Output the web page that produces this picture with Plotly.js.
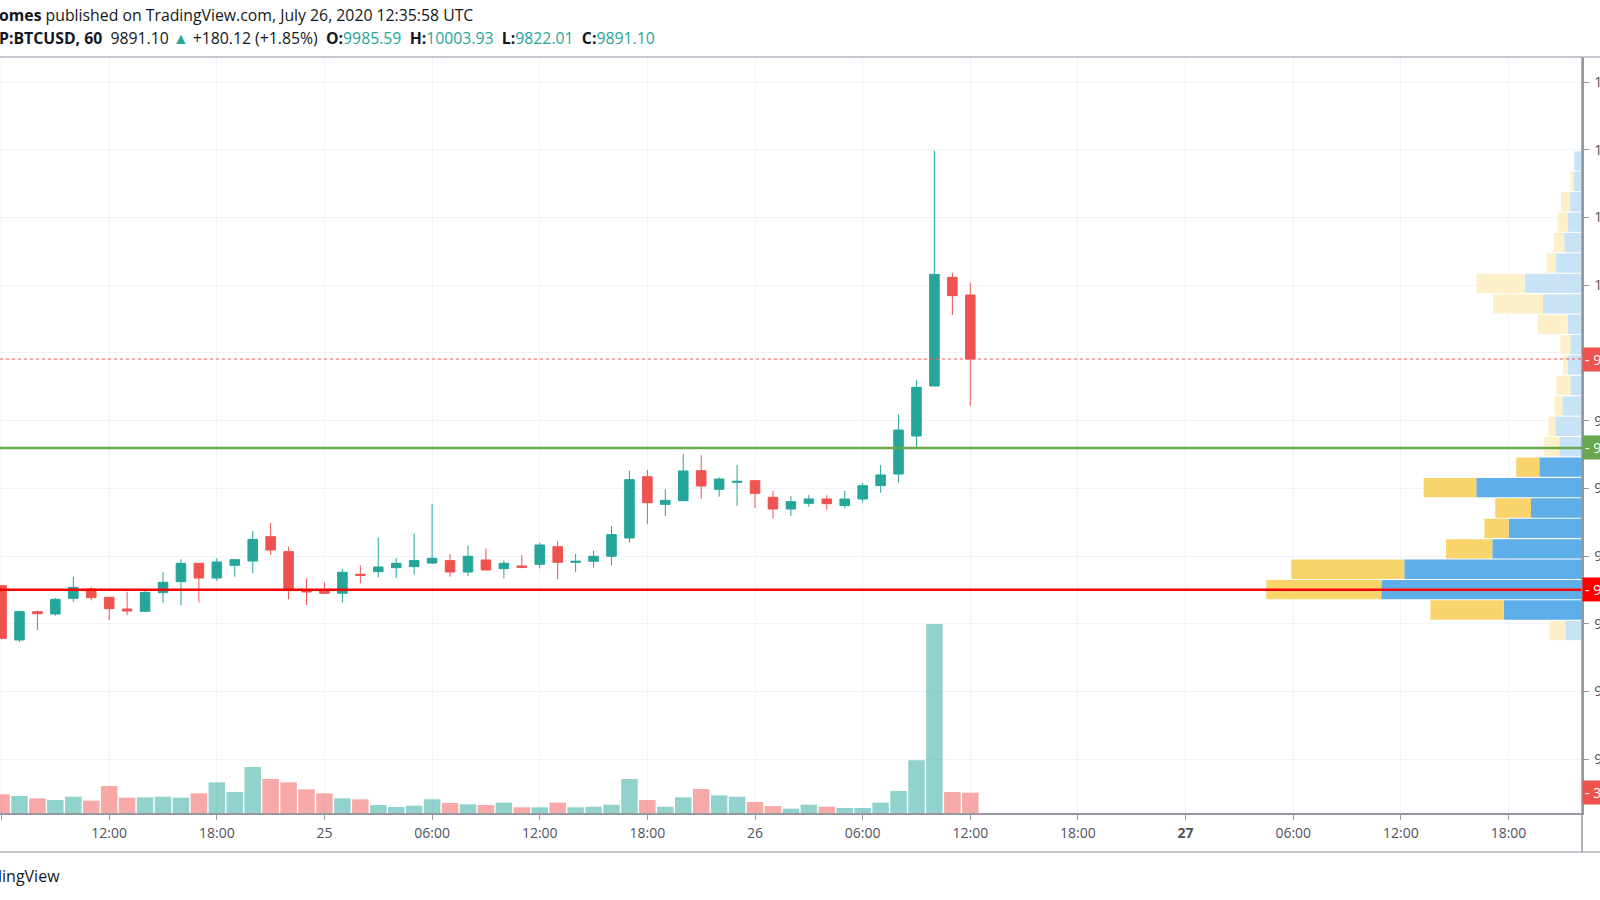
<!DOCTYPE html>
<html>
<head>
<meta charset="utf-8">
<script src="https://cdn.plot.ly/plotly-3.0.1.min.js"></script>
<style>
  html, body { margin: 0; padding: 0; overflow: hidden; background: #fff; }
  #chart { width: 1600px; height: 900px; }
</style>
</head>
<body>
<div id="chart"></div>
<script>
// ---- hourly candles, BTCUSD 60 ----
const times = [
  '2020-07-24 06:00','2020-07-24 07:00','2020-07-24 08:00','2020-07-24 09:00','2020-07-24 10:00','2020-07-24 11:00',
  '2020-07-24 12:00','2020-07-24 13:00','2020-07-24 14:00','2020-07-24 15:00','2020-07-24 16:00','2020-07-24 17:00',
  '2020-07-24 18:00','2020-07-24 19:00','2020-07-24 20:00','2020-07-24 21:00','2020-07-24 22:00','2020-07-24 23:00',
  '2020-07-25 00:00','2020-07-25 01:00','2020-07-25 02:00','2020-07-25 03:00','2020-07-25 04:00','2020-07-25 05:00',
  '2020-07-25 06:00','2020-07-25 07:00','2020-07-25 08:00','2020-07-25 09:00','2020-07-25 10:00','2020-07-25 11:00',
  '2020-07-25 12:00','2020-07-25 13:00','2020-07-25 14:00','2020-07-25 15:00','2020-07-25 16:00','2020-07-25 17:00',
  '2020-07-25 18:00','2020-07-25 19:00','2020-07-25 20:00','2020-07-25 21:00','2020-07-25 22:00','2020-07-25 23:00',
  '2020-07-26 00:00','2020-07-26 01:00','2020-07-26 02:00','2020-07-26 03:00','2020-07-26 04:00','2020-07-26 05:00',
  '2020-07-26 06:00','2020-07-26 07:00','2020-07-26 08:00','2020-07-26 09:00','2020-07-26 10:00','2020-07-26 11:00',
  '2020-07-26 12:00'
];
const openP = [
  9556.3,9476.0,9517.9,9514.4,9537.6,9551.4,9539.1,9521.8,9518.4,9545.9,9562.2,9589.3,
  9567.6,9586.3,9592.7,9628.7,9606.5,9549.0,9548.9,9545.0,9573.1,9577.0,9582.9,9584.4,
  9589.8,9593.3,9576.5,9594.2,9581.4,9585.4,9587.8,9613.9,9590.8,9592.3,9599.7,9626.7,
  9717.3,9676.4,9681.8,9726.2,9698.6,9708.9,9711.4,9686.8,9669.5,9677.9,9684.3,9674.5,
  9684.3,9704.0,9721.2,9777.4,9851.2,10011.7,9985.59
];
const highP = [
  9557.8,9519.4,9519.4,9538.1,9569.6,9554.8,9539.5,9547.4,9548.9,9576.0,9595.2,9589.5,
  9596.7,9595.7,9637.0,9649.3,9613.9,9567.1,9561.2,9580.9,9586.4,9627.7,9597.2,9633.1,
  9677.0,9603.1,9615.9,9611.0,9593.3,9601.6,9619.8,9621.8,9603.1,9608.0,9644.5,9726.2,
  9727.1,9698.6,9750.8,9748.8,9716.3,9734.5,9712.0,9696.6,9688.7,9690.2,9689.7,9696.6,
  9708.4,9734.5,9809.4,9860.1,10198.8,10018.6,10003.93
];
const lowP = [
  9477.0,9473.1,9490.8,9512.0,9532.6,9534.6,9505.6,9512.5,9518.0,9531.2,9527.2,9531.7,
  9563.2,9569.6,9574.5,9601.6,9536.1,9527.7,9544.0,9531.2,9559.8,9568.6,9567.2,9572.6,
  9588.3,9569.6,9570.6,9579.0,9567.2,9581.9,9581.9,9565.7,9576.0,9582.9,9585.9,9619.8,
  9647.4,9659.2,9681.0,9684.8,9687.7,9674.0,9670.5,9655.7,9659.2,9673.0,9668.1,9670.5,
  9678.9,9693.7,9708.9,9759.1,9851.0,9956.1,9822.01
];
const closeP = [
  9478.5,9517.9,9514.9,9536.1,9553.8,9538.6,9522.3,9518.9,9546.4,9561.2,9589.3,9567.6,
  9591.2,9594.7,9624.7,9609.0,9548.9,9547.0,9545.0,9576.0,9571.6,9583.9,9589.3,9593.3,
  9596.7,9576.5,9599.7,9579.5,9589.3,9583.4,9616.4,9590.8,9592.3,9599.7,9631.7,9712.9,
  9678.9,9682.3,9725.7,9703.5,9713.8,9710.4,9692.7,9669.5,9680.4,9684.3,9677.4,9684.3,
  9704.0,9719.8,9786.2,9849.3,10016.2,9984.7,9891.10
];
const volume = [
  299,272,235,208,261,197,432,245,251,261,245,315,
  491,336,736,544,491,379,315,235,219,128,96,117,
  219,160,139,128,165,91,91,165,91,101,133,544,
  208,101,251,384,283,261,176,112,69,133,101,80,
  80,165,352,843,3024,336,325
];

// ---- visible range volume profile (rows, top to bottom) ----
const vpPrice = [
  10183.7,10153.6,10123.4,10093.3,10063.1,10032.9,10002.8,9972.6,9942.5,9912.3,9882.2,9852.0,
  9821.8,9791.7,9761.5,9731.4,9701.2,9671.1,9640.9,9610.7,9580.6,9550.4,9520.3,9490.1
];
const vpUp = [
  7.7,8.3,12.3,14.0,17.7,26.3,57.3,39.0,14.3,11.7,14.3,11.7,
  19.7,26.7,22.7,42.7,105.7,51.0,73.3,89.7,177.7,200.7,78.3,16.7
];
const vpDown = [
  0,3.3,8.7,10.3,10.7,9.3,48.3,50.0,29.7,10.0,4.7,14.0,
  8.0,7.0,15.0,23.0,52.7,35.7,24.3,46.3,113.0,115.0,73.3,15.7
];
const vpValueArea = [
  0,0,0,0,0,0,0,0,0,0,0,0,
  0,0,0,1,1,1,1,1,1,1,1,0
];

// ---- levels and labels ----
const lastPrice = 9891.10;
const supportGreen = 9759.7;
const supportRed = 9550.4;
const tickVals = [
  '2020-07-24 06:00','2020-07-24 12:00','2020-07-24 18:00','2020-07-25 00:00',
  '2020-07-25 06:00','2020-07-25 12:00','2020-07-25 18:00','2020-07-26 00:00',
  '2020-07-26 06:00','2020-07-26 12:00','2020-07-26 18:00','2020-07-27 00:00',
  '2020-07-27 06:00','2020-07-27 12:00','2020-07-27 18:00'
];
const tickText = [
  '06:00','12:00','18:00','25','06:00','12:00','18:00','26',
  '06:00','12:00','18:00','<b>27</b>','06:00','12:00','18:00'
];

const UP = '#26a69a', DOWN = '#ef5350';
const volColors = openP.map((o, i) => closeP[i] >= o ? 'rgba(38,166,154,0.5)' : 'rgba(239,83,80,0.5)');
const upColors = vpValueArea.map(v => v ? '#5eaee9' : '#c9e3f6');
const downColors = vpValueArea.map(v => v ? '#f9d46b' : '#fdf0c9');

const traces = [
  {
    type: 'bar', x: times, y: volume, xaxis: 'x', yaxis: 'y2',
    marker: { color: volColors, line: { width: 0 } },
    width: 3600000 * 0.92, hoverinfo: 'skip'
  },
  {
    type: 'candlestick', x: times, open: openP, high: highP, low: lowP, close: closeP,
    xaxis: 'x', yaxis: 'y',
    increasing: { line: { color: UP, width: 1 }, fillcolor: UP },
    decreasing: { line: { color: DOWN, width: 1 }, fillcolor: DOWN },
    whiskerwidth: 0, hoverinfo: 'skip'
  },
  {
    type: 'bar', orientation: 'h', y: vpPrice, x: vpUp, xaxis: 'x2', yaxis: 'y',
    marker: { color: upColors, line: { width: 0 } }, width: 28.6, hoverinfo: 'skip'
  },
  {
    type: 'bar', orientation: 'h', y: vpPrice, x: vpDown, base: vpUp, xaxis: 'x2', yaxis: 'y',
    marker: { color: downColors, line: { width: 0 } }, width: 28.6, hoverinfo: 'skip'
  }
];

const FONT = 'Open Sans, Liberation Sans, sans-serif';
const TXT = '#131722';
const AX = '#50535e';
const LINE = '#9598a1';
const GRID = '#f0f3fa';

const layout = {
  width: 1600, height: 900,
  margin: { l: 0, r: 18, t: 57, b: 87 },
  paper_bgcolor: '#ffffff', plot_bgcolor: '#ffffff',
  showlegend: false, hovermode: false, dragmode: false,
  barmode: 'overlay', boxgap: 0.24,
  font: { family: FONT, color: TXT },
  xaxis: {
    type: 'date', range: ['2020-07-24 05:54:50', '2020-07-27 22:05:49'],
    tickmode: 'array', tickvals: tickVals, ticktext: tickText,
    showgrid: true, gridcolor: GRID, gridwidth: 1,
    showline: true, linecolor: LINE, linewidth: 1.5, mirror: false,
    ticks: 'outside', ticklen: 5, tickcolor: LINE, tickwidth: 1,
    tickfont: { family: FONT, size: 14, color: AX },
    ticklabelstandoff: 2,
    zeroline: false, rangeslider: { visible: false }, fixedrange: true
  },
  xaxis2: { overlaying: 'x', range: [1582, 0], visible: false, fixedrange: true },
  yaxis: {
    side: 'right', range: [9220.5, 10337.2], tick0: 0, dtick: 100, tickformat: '.2f',
    showgrid: true, gridcolor: GRID, gridwidth: 1,
    showline: true, linecolor: LINE, linewidth: 1.5,
    ticks: 'outside', ticklen: 5, tickcolor: LINE,
    tickfont: { family: FONT, size: 14, color: AX },
    ticklabelstandoff: 3,
    zeroline: false, fixedrange: true
  },
  yaxis2: { overlaying: 'y', range: [0, 12100], visible: false, fixedrange: true },
  shapes: [
    { type: 'line', xref: 'paper', yref: 'y', x0: 0, x1: 1, y0: supportGreen, y1: supportGreen,
      line: { color: '#6aa84f', width: 2.5 }, layer: 'above' },
    { type: 'line', xref: 'paper', yref: 'y', x0: 0, x1: 1, y0: supportRed, y1: supportRed,
      line: { color: '#ff0000', width: 2.5 }, layer: 'above' },
    { type: 'line', xref: 'paper', yref: 'y', x0: 0, x1: 1, y0: lastPrice, y1: lastPrice,
      line: { color: DOWN, width: 1, dash: 'dot' }, layer: 'above' },
    { type: 'line', xref: 'paper', yref: 'paper', x0: -0.05, x1: 1.1, y0: 1, y1: 1,
      line: { color: '#b2b5be', width: 1.5 }, layer: 'above' },
    { type: 'line', xref: 'paper', yref: 'paper', x0: -0.05, x1: 1.1, y0: -0.0516, y1: -0.0516,
      line: { color: '#b2b5be', width: 1.5 }, layer: 'above' },
    { type: 'line', xref: 'paper', yref: 'paper', x0: 1, x1: 1, y0: 1, y1: -0.0516,
      line: { color: LINE, width: 1.5 }, layer: 'above' }
  ],
  annotations: [
    { xref: 'paper', yref: 'paper', x: 0, y: 1.0552, xanchor: 'left', yanchor: 'middle', showarrow: false,
      xshift: -3,
      text: '<b>omes</b> published on TradingView.com, July 26, 2020 12:35:58 UTC',
      font: { family: FONT, size: 15.8, color: TXT } },
    { xref: 'paper', yref: 'paper', x: 0, y: 1.0254, xanchor: 'left', yanchor: 'middle', showarrow: false,
      xshift: -3,
      text: '<b>P:BTCUSD, 60</b>  9891.10 <span style="color:#26a69a">▲</span> +180.12 (+1.85%)  <b>O:</b><span style="color:#26a69a">9985.59</span>  <b>H:</b><span style="color:#26a69a">10003.93</span>  <b>L:</b><span style="color:#26a69a">9822.01</span>  <b>C:</b><span style="color:#26a69a">9891.10</span>',
      font: { family: FONT, size: 15.8, color: TXT } },
    { xref: 'paper', yref: 'paper', x: 0.0392, y: -0.0827, xanchor: 'right', yanchor: 'middle', showarrow: false,
      text: 'TradingView', font: { family: FONT, size: 16, color: TXT } },
    { xref: 'paper', yref: 'y', x: 1, y: lastPrice, xanchor: 'left', yanchor: 'middle', showarrow: false,
      text: '- 9891.10', bgcolor: DOWN, borderpad: 2, font: { family: FONT, size: 14, color: '#ffffff' } },
    { xref: 'paper', yref: 'y', x: 1, y: supportGreen, xanchor: 'left', yanchor: 'middle', showarrow: false,
      text: '- 9759.70', bgcolor: '#6aa84f', borderpad: 2, font: { family: FONT, size: 14, color: '#ffffff' } },
    { xref: 'paper', yref: 'y', x: 1, y: supportRed, xanchor: 'left', yanchor: 'middle', showarrow: false,
      text: '- 9550.40', bgcolor: '#ff0000', borderpad: 2, font: { family: FONT, size: 14, color: '#ffffff' } },
    { xref: 'paper', yref: 'y2', x: 1, y: volume[volume.length - 1], xanchor: 'left', yanchor: 'middle', showarrow: false,
      text: '- 325', bgcolor: DOWN, borderpad: 2, font: { family: FONT, size: 14, color: '#ffffff' } }
  ]
};

Plotly.newPlot('chart', traces, layout, { displayModeBar: false, staticPlot: true });
</script>
</body>
</html>
